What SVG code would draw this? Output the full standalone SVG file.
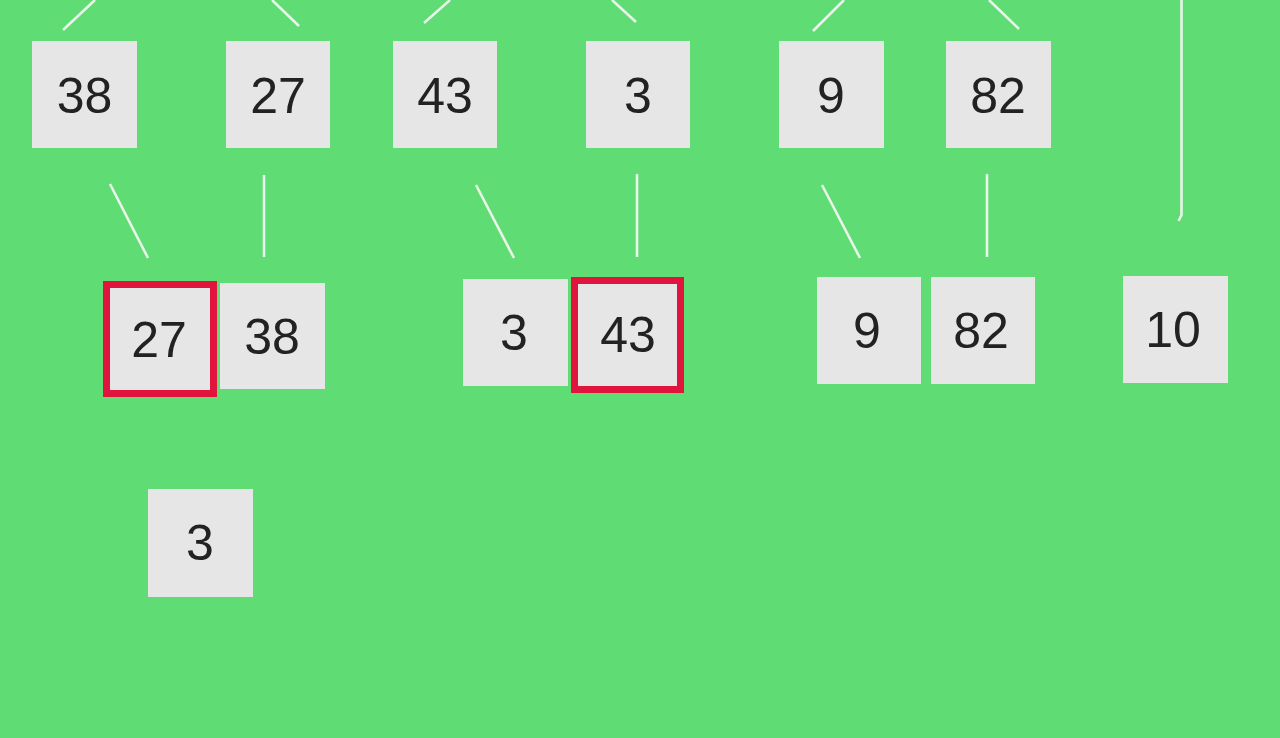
<svg xmlns="http://www.w3.org/2000/svg" width="1280" height="738" viewBox="0 0 1280 738">
<style>
.bg{fill:#60DC74}
.box{fill:#E6E6E6}
.sel{fill:#E6E6E6;stroke:#E0143C;stroke-width:7}
.t{font-family:"Liberation Sans","Lato",sans-serif;font-size:50px;fill:#222222;text-anchor:middle}
.c{stroke:#E8F4E8;stroke-width:2.6;fill:none;stroke-linecap:butt}
</style>
<rect class="bg" x="0" y="0" width="1280" height="738"/>
<g id="connectors">
<line class="c" x1="63" y1="30" x2="95" y2="0"/>
<line class="c" x1="272" y1="0" x2="299" y2="26"/>
<line class="c" x1="424" y1="23" x2="450" y2="0"/>
<line class="c" x1="612" y1="0" x2="636" y2="22"/>
<line class="c" x1="813" y1="31" x2="844" y2="0"/>
<line class="c" x1="989" y1="0" x2="1019" y2="29"/>
<line class="c" x1="110" y1="184" x2="148" y2="258"/>
<line class="c" x1="264" y1="175" x2="264" y2="257"/>
<line class="c" x1="476" y1="185" x2="514" y2="258"/>
<line class="c" x1="637" y1="174" x2="637" y2="257"/>
<line class="c" x1="822" y1="185" x2="860" y2="258"/>
<line class="c" x1="987" y1="174" x2="987" y2="257"/>
<path class="c" d="M1181.5,0 V215 L1178.5,221"/>
</g>
<g id="n38a"><rect class="box" x="32" y="41" width="105" height="107"/><text class="t" x="84.5" y="112.5">38</text></g>
<g id="n27a"><rect class="box" x="226" y="41" width="104" height="107"/><text class="t" x="278" y="112.5">27</text></g>
<g id="n43a"><rect class="box" x="393" y="41" width="104" height="107"/><text class="t" x="445" y="112.5">43</text></g>
<g id="n3a"><rect class="box" x="586" y="41" width="104" height="107"/><text class="t" x="638" y="112.5">3</text></g>
<g id="n9a"><rect class="box" x="779" y="41" width="105" height="107"/><text class="t" x="831" y="112.5">9</text></g>
<g id="n82a"><rect class="box" x="946" y="41" width="105" height="107"/><text class="t" x="998" y="112.5">82</text></g>
<g id="n27b"><rect class="sel" x="106.5" y="284.5" width="107" height="109"/><text class="t" x="159" y="357">27</text></g>
<g id="n38b"><rect class="box" x="220" y="283" width="105" height="106"/><text class="t" x="272" y="354">38</text></g>
<g id="n3b"><rect class="box" x="463" y="279" width="105" height="107"/><text class="t" x="514" y="350">3</text></g>
<g id="n43b"><rect class="sel" x="574.5" y="280.5" width="106" height="109"/><text class="t" x="628" y="352">43</text></g>
<g id="n9b"><rect class="box" x="817" y="277" width="104" height="107"/><text class="t" x="867" y="348">9</text></g>
<g id="n82b"><rect class="box" x="931" y="277" width="104" height="107"/><text class="t" x="981" y="348">82</text></g>
<g id="n10"><rect class="box" x="1123" y="276" width="105" height="107"/><text class="t" x="1173" y="347">10</text></g>
<g id="n3c"><rect class="box" x="148" y="489" width="105" height="108"/><text class="t" x="200" y="560">3</text></g>
</svg>
